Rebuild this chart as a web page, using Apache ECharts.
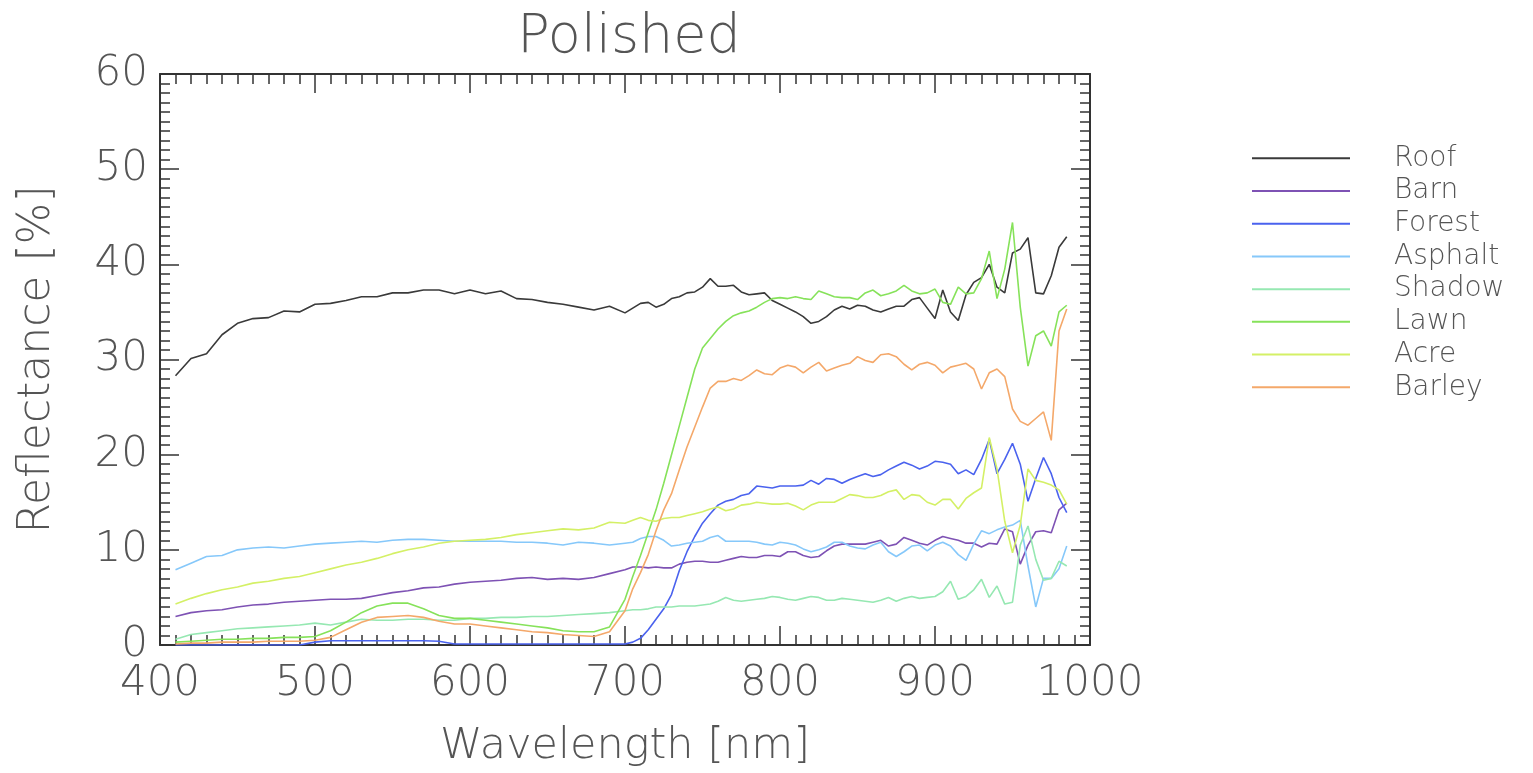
<!DOCTYPE html>
<html>
<head>
<meta charset="utf-8">
<script src="https://cdn.jsdelivr.net/npm/echarts@6/dist/echarts.min.js"></script>
<style>
html,body{margin:0;padding:0;background:#fff;}
#chart{width:1533px;height:773px;}
</style>
</head>
<body>
<div id="chart"></div>
<script>
// Wavelengths [nm]
const wavelengths = [410,420,430,440,450,460,470,480,490,500,510,520,530,540,550,560,570,580,590,600,610,620,630,640,650,660,670,680,690,700,
705,710,715,720,725,730,735,740,745,750,755,760,765,770,775,780,785,790,795,800,805,810,815,820,825,830,835,840,845,850,855,860,865,870,875,880,885,890,895,900,905,910,915,920,925,930,935,940,945,950,955,960,965,970,975,980,985];

const seriesNames = ['Roof','Barn','Forest','Asphalt','Shadow','Lawn','Acre','Barley'];

const roof = [28.3,30.1,30.6,32.6,33.8,34.3,34.4,35.1,35.0,35.8,35.9,36.2,36.6,36.6,37.0,37.0,37.3,37.3,36.9,37.3,36.9,37.2,36.4,36.3,36.0,35.8,35.5,35.2,35.6,34.9,
35.4,35.9,36.0,35.5,35.8,36.4,36.6,37.0,37.1,37.6,38.5,37.7,37.7,37.8,37.1,36.8,36.9,37.0,36.2,35.8,35.4,35.0,34.5,33.8,34.0,34.5,35.2,35.6,35.3,35.7,35.6,35.2,35.0,35.3,35.6,35.6,36.3,36.5,35.4,34.3,37.3,35.0,34.1,36.8,38.1,38.6,40.0,37.6,37.0,41.2,41.6,42.8,37.0,36.9,38.8,41.8,42.9];

const barn = [3.0,3.4,3.6,3.7,4.0,4.2,4.3,4.5,4.6,4.7,4.8,4.8,4.9,5.2,5.5,5.7,6.0,6.1,6.4,6.6,6.7,6.8,7.0,7.1,6.9,7.0,6.9,7.1,7.5,7.9,
8.2,8.2,8.1,8.2,8.1,8.1,8.5,8.7,8.8,8.8,8.7,8.7,8.9,9.1,9.3,9.2,9.2,9.4,9.4,9.3,9.8,9.8,9.4,9.2,9.3,9.9,10.4,10.6,10.6,10.6,10.6,10.8,11.0,10.4,10.6,11.3,11.0,10.7,10.5,11.0,11.4,11.2,11.0,10.7,10.7,10.3,10.7,10.6,12.2,11.9,8.5,10.5,11.9,12.0,11.8,14.2,14.9];

const forest = [0,0,0,0,0,0,0,0,0,0.3,0.45,0.45,0.45,0.45,0.45,0.45,0.45,0.4,0.1,0.1,0.1,0.1,0.1,0.1,0.1,0.1,0.1,0.1,0.1,0.1,
0.3,0.7,1.6,2.7,3.8,5.3,7.8,9.8,11.4,12.8,13.8,14.7,15.1,15.3,15.7,15.9,16.7,16.6,16.5,16.7,16.7,16.7,16.8,17.3,16.9,17.5,17.4,17.0,17.4,17.7,18.0,17.7,17.9,18.4,18.8,19.2,18.9,18.5,18.8,19.3,19.2,19.0,18.0,18.4,17.9,19.5,21.6,18.0,19.5,21.2,19.0,15.1,17.5,19.7,18.0,15.5,13.9];

const asphalt = [7.9,8.6,9.3,9.4,10.0,10.2,10.3,10.2,10.4,10.6,10.7,10.8,10.9,10.8,11.0,11.1,11.1,11.0,10.9,10.9,10.9,10.9,10.8,10.8,10.7,10.5,10.8,10.7,10.5,10.7,
10.8,11.2,11.4,11.4,11.0,10.4,10.5,10.7,10.8,10.9,11.3,11.5,10.9,10.9,10.9,10.9,10.8,10.6,10.5,10.8,10.7,10.5,10.1,9.8,10.0,10.3,10.8,10.8,10.4,10.2,10.1,10.5,10.8,9.8,9.3,9.8,10.4,10.5,9.9,10.5,10.8,10.4,9.5,8.9,10.6,12.0,11.7,12.1,12.4,12.6,13.1,8.3,4.0,7.0,7.0,8.0,10.4];

const shadow = [0.6,1.1,1.3,1.5,1.7,1.8,1.9,2.0,2.1,2.3,2.1,2.4,2.7,2.6,2.6,2.7,2.7,2.6,2.6,2.8,2.8,2.9,2.9,3.0,3.0,3.1,3.2,3.3,3.4,3.6,
3.7,3.7,3.8,4.0,4.0,4.0,4.1,4.1,4.1,4.2,4.3,4.6,5.0,4.7,4.6,4.7,4.8,4.9,5.1,5.0,4.8,4.7,4.9,5.1,5.0,4.7,4.7,4.9,4.8,4.7,4.6,4.5,4.7,5.0,4.6,4.9,5.1,4.9,5.0,5.1,5.6,6.7,4.8,5.1,5.8,6.9,5.0,6.2,4.3,4.5,10.5,12.5,9.0,6.8,7.0,8.8,8.3];

const lawn = [0.3,0.4,0.5,0.6,0.6,0.7,0.7,0.8,0.8,0.9,1.5,2.4,3.4,4.1,4.4,4.4,3.8,3.1,2.8,2.8,2.6,2.4,2.2,2.0,1.8,1.5,1.4,1.4,1.9,4.8,
7.2,9.4,11.8,14.2,17.0,20.0,23.0,26.0,29.0,31.2,32.2,33.2,34.0,34.6,34.9,35.1,35.5,36.0,36.4,36.5,36.4,36.6,36.4,36.3,37.2,36.9,36.6,36.5,36.5,36.3,37.0,37.3,36.7,36.9,37.2,37.8,37.2,36.9,37.0,37.4,36.0,35.8,37.6,36.9,37.0,38.5,41.4,36.4,39.5,44.4,35.5,29.3,32.5,33.0,31.4,35.0,35.7];

const acre = [4.3,4.9,5.4,5.8,6.1,6.5,6.7,7.0,7.2,7.6,8.0,8.4,8.7,9.1,9.6,10.0,10.3,10.7,10.9,11.0,11.1,11.3,11.6,11.8,12.0,12.2,12.1,12.3,12.9,12.8,
13.1,13.4,13.1,13.0,13.3,13.4,13.4,13.6,13.8,14.0,14.3,14.5,14.1,14.3,14.7,14.8,15.0,14.9,14.8,14.8,14.9,14.6,14.2,14.7,15.0,15.0,15.0,15.4,15.8,15.7,15.5,15.5,15.7,16.1,16.3,15.3,15.8,15.7,15.0,14.7,15.3,15.3,14.3,15.4,16.0,16.5,21.8,18.5,13.0,9.7,12.6,18.5,17.3,17.1,16.8,16.3,14.8];

const barley = [0.1,0.2,0.2,0.3,0.3,0.3,0.4,0.4,0.4,0.5,0.8,1.6,2.4,2.9,3.0,3.1,2.9,2.5,2.2,2.2,2.0,1.8,1.6,1.4,1.3,1.1,1.0,0.9,1.4,3.6,
5.9,7.6,9.5,12.0,14.2,15.9,18.4,20.8,22.9,25.0,27.0,27.7,27.7,28.0,27.8,28.3,28.9,28.5,28.4,29.1,29.4,29.2,28.6,29.2,29.7,28.8,29.1,29.4,29.6,30.3,29.9,29.7,30.5,30.6,30.3,29.5,28.9,29.5,29.7,29.4,28.6,29.2,29.4,29.6,29.0,26.9,28.6,29.0,28.2,24.8,23.5,23.1,23.8,24.5,21.5,33.0,35.3];

const seriesValues = [roof, barn, forest, asphalt, shadow, lawn, acre, barley];
const seriesColors = ['#3a3a3a','#7e52b4','#4a62ee','#86c8fa','#96e8b2','#86e25a','#d4f066','#f4a86a'];

const xTicks = [400,500,600,700,800,900,1000];
const yTicks = [0,10,20,30,40,50,60];

const FONT = 'DejaVu Sans';
const TXT = '#555555';
const AX = '#333333';

const chart = echarts.init(document.getElementById('chart'), null, {renderer:'canvas'});

function axisCommon(showLabels){
  return {
    axisLine:{show:true, onZero:false, lineStyle:{color:AX, width:2}},
    axisTick:{show:true, inside:true, length:19, lineStyle:{color:AX, width:1.5}},
    minorTick:{show:true, splitNumber:10, length:10, lineStyle:{color:AX, width:1.5}},
    splitLine:{show:false},
    minorSplitLine:{show:false},
    axisLabel:{show:showLabels, color:TXT, fontSize:42, fontFamily:FONT, fontWeight:200,
      formatter:function(v){return String(v);}}
  };
}

const option = {
  animation:false,
  backgroundColor:'#ffffff',
  title:{
    text:'Polished',
    left:624, top:6, textAlign:'center',
    textStyle:{color:TXT, fontSize:54, fontFamily:FONT, fontWeight:200}
  },
  legend:{
    orient:'vertical',
    left:1247, top:137,
    icon:'rect', itemWidth:98, itemHeight:2, itemGap:0,
    data:seriesNames,
    textStyle:{color:TXT, fontSize:28, fontFamily:FONT, fontWeight:200, lineHeight:32.7, padding:[0,0,0,39]},
    selectedMode:false
  },
  grid:{left:160, right:443, top:74, bottom:127, containLabel:false},
  xAxis:[
    Object.assign(axisCommon(true), {
      type:'value', min:xTicks[0], max:xTicks[xTicks.length-1], interval:100, position:'bottom',
      name:'Wavelength [nm]', nameLocation:'middle', nameGap:80,
      nameTextStyle:{color:TXT, fontSize:43, fontFamily:FONT, fontWeight:200}
    }),
    Object.assign(axisCommon(false), {
      type:'value', min:xTicks[0], max:xTicks[xTicks.length-1], interval:100, position:'top'
    })
  ],
  yAxis:[
    Object.assign(axisCommon(true), {
      type:'value', min:yTicks[0], max:yTicks[yTicks.length-1], interval:10, position:'left',
      name:'Reflectance [%]', nameLocation:'middle', nameGap:100,
      nameTextStyle:{color:TXT, fontSize:44, fontFamily:FONT, fontWeight:200}
    }),
    Object.assign(axisCommon(false), {
      type:'value', min:yTicks[0], max:yTicks[yTicks.length-1], interval:10, position:'right'
    })
  ],
  series: seriesNames.map((name,k)=>({
    name:name,
    type:'line',
    xAxisIndex:0, yAxisIndex:0,
    data: seriesValues[k].map((v,i)=>[wavelengths[i], v]),
    symbol:'none', showSymbol:false,
    lineStyle:{color:seriesColors[k], width:1.6},
    itemStyle:{color:seriesColors[k]},
    emphasis:{disabled:true}
  }))
};
option.xAxis[0].axisLabel.margin = 18;
option.yAxis[0].axisLabel.margin = 12;
chart.setOption(option);
</script>
</body>
</html>
